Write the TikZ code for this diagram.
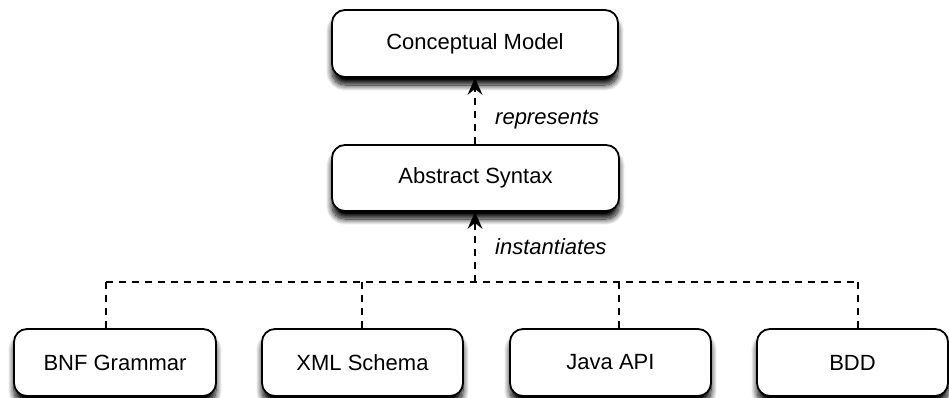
\documentclass[tikz,border=0pt]{standalone}
\usepackage{fontspec}
\setmainfont{Liberation Sans}
\usetikzlibrary{arrows.meta,shadows.blur}
\begin{document}
\begin{tikzpicture}[x=1pt,y=-1pt,
  box/.style={draw=black, line width=1.8pt, fill=white, rounded corners=13pt,
    blur shadow={shadow xshift=0pt, shadow yshift=-8pt, shadow blur steps=12, shadow blur radius=6pt, shadow opacity=100},
    font=\fontsize{22}{25}\selectfont, inner sep=0pt},
  link/.style={line width=1.8pt, dash pattern=on 7pt off 6pt},
  headup/.style={-{Stealth[length=17pt,width=15pt,inset=6pt]}},
  lbl/.style={font=\fontsize{22}{25}\selectfont\itshape, anchor=west, inner sep=0pt}]
\useasboundingbox (0,0) rectangle (949,398);
% top level
\node[box, minimum width=286pt, minimum height=67pt] (cm) at (475,43.5) {Conceptual Model};
\node[box, minimum width=287pt, minimum height=66pt] (as) at (475.5,178) {Abstract Syntax};
% concrete representations
\node[box, minimum width=202pt, minimum height=67pt] (bnf) at (115,362.5) {BNF Grammar};
\node[box, minimum width=201pt, minimum height=67pt] (xml) at (362.5,362.5) {XML Schema};
\node[box, minimum width=201pt, minimum height=67pt] (java) at (610.5,362.5) {Java API};
\node[box, minimum width=191pt, minimum height=67pt] (bdd) at (852.5,362.5) {BDD};
% connectors
\draw[link, headup] (as.north -| cm.south) -- (cm.south);
\node[lbl] (rep) at (495,120) {represents};
\coordinate (bus) at (475,282);
\coordinate (b1) at (106,282);
\coordinate (b2) at (362,282);
\coordinate (b3) at (619,282);
\coordinate (b4) at (858,282);
\draw[link, headup] (bus) -- (bus |- as.south);
\node[lbl] (inst) at (495,247) {instantiates};
\draw[link] (b1) -- (b4);
\draw[link] (b1) -- (b1 |- bnf.north);
\draw[link] (b2) -- (b2 |- xml.north);
\draw[link] (b3) -- (b3 |- java.north);
\draw[link] (b4) -- (b4 |- bdd.north);
\end{tikzpicture}
\end{document}
